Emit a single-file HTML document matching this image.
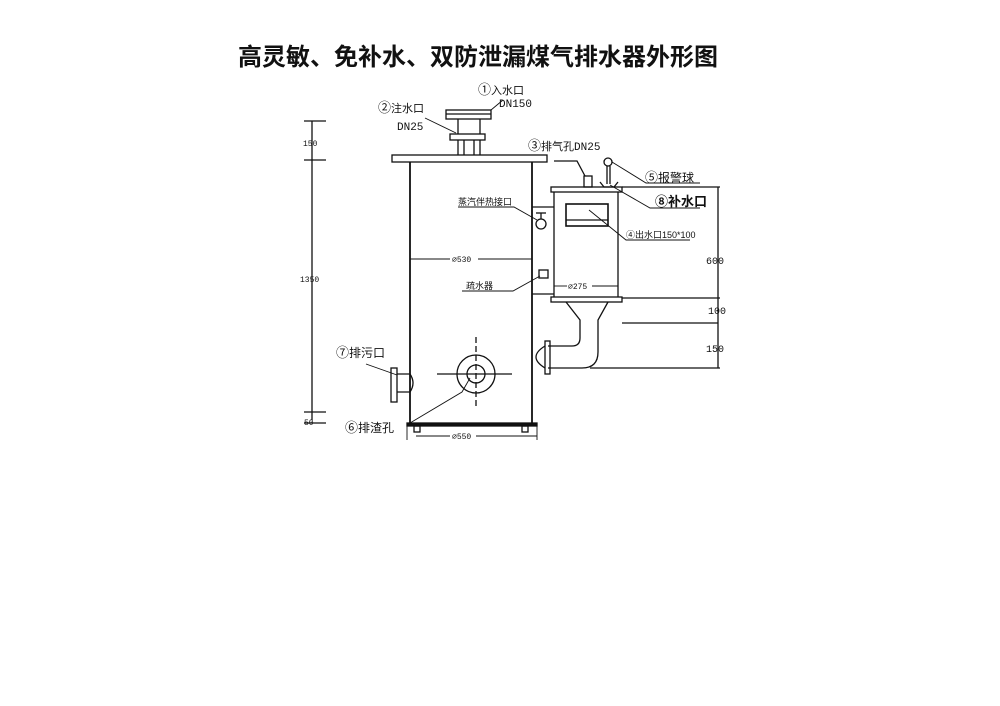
<!DOCTYPE html>
<html><head><meta charset="utf-8"><style>
body{margin:0;background:#fff;}
svg{display:block;}
text{font-family:"Liberation Sans","Noto Sans CJK SC",sans-serif;fill:#111;}
.m{font-family:"Liberation Mono","Noto Sans CJK SC",monospace;}
</style></head><body>
<svg width="1000" height="706" viewBox="0 0 1000 706" xmlns="http://www.w3.org/2000/svg">
<text x="478" y="65" text-anchor="middle" font-size="24" font-weight="bold" style="font-family:'Noto Sans CJK SC',sans-serif">高灵敏、免补水、双防泄漏煤气排水器外形图</text>
<g stroke="#111" fill="none" stroke-width="1.3">
<line x1="312" y1="121" x2="312" y2="420"/>
<line x1="304" y1="121" x2="326" y2="121"/><line x1="304" y1="160" x2="326" y2="160"/>
<line x1="304" y1="412" x2="326" y2="412"/><line x1="304" y1="423" x2="326" y2="423"/>
<rect x="446" y="110" width="45" height="9"/><line x1="446" y1="114" x2="491" y2="114"/>
<line x1="458" y1="119" x2="458" y2="134"/><line x1="480" y1="119" x2="480" y2="134"/>
<rect x="450" y="134" width="35" height="6"/>
<line x1="458" y1="140" x2="458" y2="155"/><line x1="464" y1="140" x2="464" y2="155"/>
<line x1="474" y1="140" x2="474" y2="155"/><line x1="480" y1="140" x2="480" y2="155"/>
<rect x="392" y="155" width="155" height="7"/>
<line x1="410" y1="162" x2="410" y2="423" stroke-width="1.8"/>
<line x1="532" y1="162" x2="532" y2="423" stroke-width="1.8"/>
<rect x="407" y="423" width="130" height="3" fill="#111"/>
<rect x="414" y="426" width="6" height="6"/><rect x="522" y="426" width="6" height="6"/>
<line x1="532" y1="207" x2="554" y2="207"/><line x1="532" y1="294" x2="554" y2="294"/>
<line x1="536" y1="213" x2="546" y2="213"/><line x1="541" y1="213" x2="541" y2="219"/>
<circle cx="541" cy="224" r="5"/>
<rect x="539" y="270" width="9" height="8"/>
<rect x="551" y="187" width="71" height="5"/>
<line x1="554" y1="192" x2="554" y2="297"/><line x1="618" y1="192" x2="618" y2="297"/>
<rect x="551" y="297" width="71" height="5"/>
<rect x="566" y="204" width="42" height="22" stroke-width="1.6"/><line x1="566" y1="220" x2="608" y2="220"/>
<rect x="584" y="176" width="8" height="11"/>
<polyline points="554,161 577,161 585,176"/>
<circle cx="608" cy="162" r="4"/>
<line x1="607" y1="166" x2="607" y2="184"/><line x1="610" y1="166" x2="610" y2="184"/>
<polyline points="600,182 604,187 614,187 618,182"/>
<path d="M566,302 L580,320 L580,338 Q580,346 572,346 L548,346"/>
<path d="M608,302 L598,320 L598,352 Q598,368 582,368 L548,368"/>
<rect x="545" y="341" width="5" height="33"/>
<path d="M545,346 Q527,357 545,368"/>
<rect x="391" y="368" width="6" height="34"/>
<path d="M397,374 L410,374 Q416,383 410,392 L397,392"/>
<circle cx="476" cy="374" r="19"/><circle cx="476" cy="374" r="9"/>
<line x1="437" y1="374" x2="512" y2="374"/>
<line x1="476" y1="337" x2="476" y2="408" stroke-dasharray="6,3"/>
<line x1="718" y1="187" x2="718" y2="368"/>
<line x1="622" y1="187" x2="720" y2="187"/>
<line x1="622" y1="298" x2="720" y2="298"/>
<line x1="622" y1="323" x2="718" y2="323"/>
<line x1="590" y1="368" x2="720" y2="368"/>
</g>
<g stroke="#111" fill="none" stroke-width="0.9">
<line x1="410" y1="259" x2="450" y2="259"/><line x1="478" y1="259" x2="532" y2="259"/>
<line x1="554" y1="286" x2="567" y2="286"/><line x1="592" y1="286" x2="618" y2="286"/>
<line x1="416" y1="436" x2="450" y2="436"/><line x1="476" y1="436" x2="537" y2="436"/>
<line x1="407" y1="426" x2="407" y2="440"/><line x1="537" y1="426" x2="537" y2="440"/>
<polyline points="491,110 503,100"/>
<polyline points="425,118 456,133"/>
<polyline points="458,207 514,207 537,220"/>
<polyline points="462,291 513,291 540,276"/>
<polyline points="589,210 626,240 690,240"/>
<polyline points="612,162 646,183 700,183"/>
<polyline points="610,185 650,208 700,208"/>
<polyline points="366,364 397,375"/>
<polyline points="410,423 462,392 470,378"/>
</g>
<g font-size="11">
<text x="478" y="94"><tspan font-size="13">①</tspan>入水口</text>
<text x="499" y="107" class="m" font-size="11">DN150</text>
<text x="378" y="112"><tspan font-size="13">②</tspan>注水口</text>
<text x="397" y="130" class="m" font-size="11">DN25</text>
<text x="528" y="150"><tspan font-size="13">③</tspan>排气孔<tspan class="m">DN25</tspan></text>
<text x="645" y="182" font-size="12"><tspan font-size="13">⑤</tspan>报警球</text>
<text x="655" y="206" font-size="13" font-weight="bold"><tspan>⑧</tspan>补水口</text>
<text x="626" y="238" font-size="9">④出水口150*100</text>
<text x="458" y="205" font-size="9">蒸汽伴热接口</text>
<text x="452" y="262" font-size="8" class="m">⌀530</text>
<text x="466" y="289" font-size="9">疏水器</text>
<text x="568" y="289" font-size="8" class="m">⌀275</text>
<text x="336" y="357" font-size="12"><tspan font-size="13">⑦</tspan>排污口</text>
<text x="345" y="432" font-size="12"><tspan font-size="13">⑥</tspan>排渣孔</text>
<text x="452" y="439" font-size="8" class="m">⌀550</text>
<text x="303" y="146" font-size="8" class="m">150</text>
<text x="300" y="282" font-size="8" class="m">1350</text>
<text x="304" y="425" font-size="8" class="m">50</text>
<text x="706" y="264" font-size="10" class="m">600</text>
<text x="708" y="314" font-size="10" class="m">100</text>
<text x="706" y="352" font-size="10" class="m">150</text>
</g>
</svg>
</body></html>
